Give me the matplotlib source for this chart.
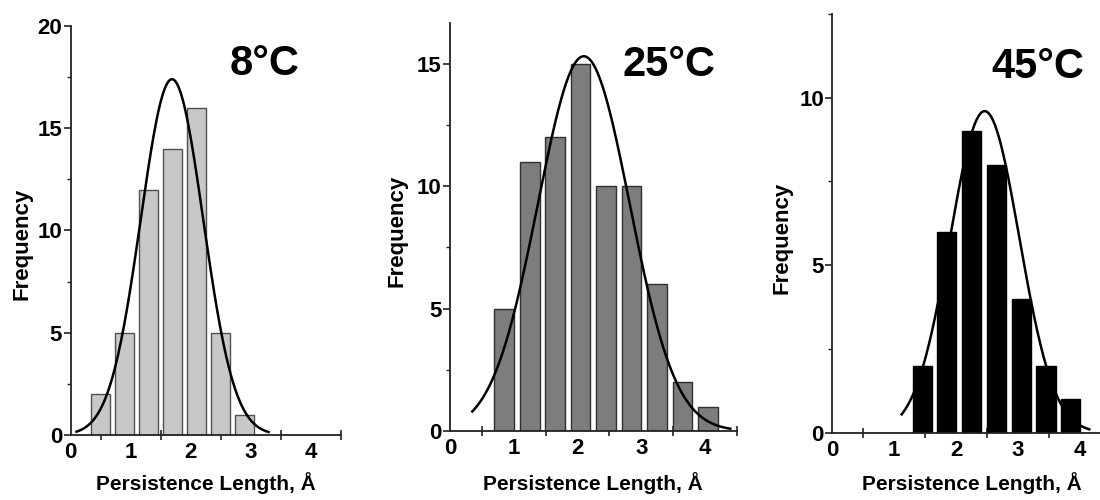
import numpy as np
import matplotlib
matplotlib.use("Agg")
import matplotlib.pyplot as plt
from matplotlib.ticker import MultipleLocator

plt.rcParams['font.family'] = ['Liberation Sans', 'DejaVu Sans']
plt.rcParams['font.weight'] = 'bold'

# histogram bins (centre, A) and counts
bins_8 = [0.5, 0.9, 1.3, 1.7, 2.1, 2.5, 2.9]
counts_8 = [2, 5, 12, 14, 16, 5, 1]
bins_25 = [0.85, 1.25, 1.65, 2.05, 2.45, 2.85, 3.25, 3.65, 4.05]
counts_25 = [5, 11, 12, 15, 10, 10, 6, 2, 1]
bins_45 = [1.45, 1.85, 2.25, 2.65, 3.05, 3.45, 3.85]
counts_45 = [2, 6, 9, 8, 4, 2, 1]

# gaussian fits: amplitude, mean, sd, x range of the drawn curve
fit_8 = (17.4, 1.69, 0.52, 0.1, 3.3)
fit_25 = (15.3, 2.10, 0.72, 0.35, 4.4)
fit_45 = (9.6, 2.46, 0.56, 1.12, 4.15)

labels = ['8°C', '25°C', '45°C']
ymax = [20, 16.67, 12.5]

# axes boxes in pixels: left, right, top, bottom (fig is 1100x500)
boxes = [(70.5, 340.7, 26, 435), (450, 736.7, 22.7, 431), (832.3, 1111, 14, 432.7)]
face = ['#c8c8c8', '#7d7d7d', 'black']
edge = ['#505050', '#303030', 'black']
ylab_pos = [(22, 244), (397, 231), (782.5, 237.5)]
temp_pos = [(264.5, 75), (669, 76), (1037.5, 78)]

fig = plt.figure(figsize=(11, 5), dpi=100)
W, H = 1100.0, 500.0

data = [(bins_8, counts_8, fit_8), (bins_25, counts_25, fit_25), (bins_45, counts_45, fit_45)]
for i, (b, c, f) in enumerate(data):
    l, r, t, bt = boxes[i]
    ax = fig.add_axes([l / W, 1 - bt / H, (r - l) / W, (bt - t) / H])
    ax.bar(b, c, width=0.31, color=face[i], edgecolor=edge[i], linewidth=1.0, zorder=2)
    amp, mu, sd, x0, x1 = f
    xs = np.linspace(x0, x1, 200)
    ax.plot(xs, amp * np.exp(-(xs - mu) ** 2 / (2 * sd ** 2)), color='black', lw=1.8, zorder=3)

    ax.set_xlim(0, 4.5)
    ax.set_ylim(0, ymax[i])
    ax.spines['top'].set_visible(False)
    ax.spines['right'].set_visible(False)
    for s in ['left', 'bottom']:
        ax.spines[s].set_linewidth(1.3)
        ax.spines[s].set_color('#222222')

    ax.set_xticks([0, 1, 2, 3, 4])
    ax.set_xticks([0.5, 1.5, 2.5, 3.5, 4.5], minor=True)
    ax.tick_params(axis='x', which='major', length=0, pad=5, labelsize=16)
    ax.tick_params(axis='x', which='minor', direction='inout', length=7, width=1.2, color='#222222')
    ax.yaxis.set_major_locator(MultipleLocator(5))
    ax.yaxis.set_minor_locator(MultipleLocator(2.5))
    ax.tick_params(axis='y', which='major', length=5, width=1.2, pad=1, labelsize=16, color='#222222')
    ax.tick_params(axis='y', which='minor', length=3, width=1.0, color='#222222')
    for lab in ax.get_xticklabels() + ax.get_yticklabels():
        lab.set_fontweight('bold')

    fig.text((l + r) / 2 / W, 1 - 490 / H, 'Persistence Length, Å', ha='center', va='baseline',
             fontsize=15, fontweight='bold')
    fig.text(ylab_pos[i][0] / W, 1 - ylab_pos[i][1] / H, 'Frequency', rotation=90,
             ha='center', va='center', fontsize=16, fontweight='bold')
    fig.text(temp_pos[i][0] / W, 1 - temp_pos[i][1] / H, labels[i], ha='center', va='baseline',
             fontsize=30, fontweight='bold')

fig.savefig('out.png', dpi=100)
